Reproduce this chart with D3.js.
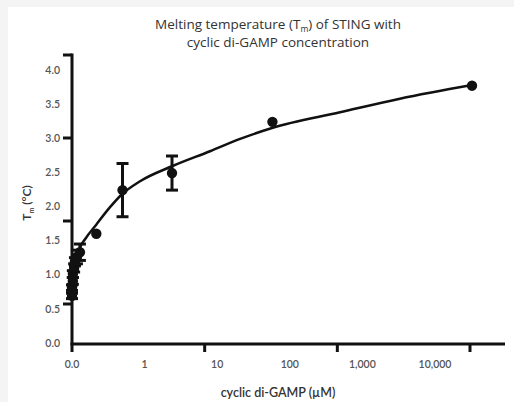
<!DOCTYPE html>
<html><head><meta charset="utf-8">
<script src="https://cdn.jsdelivr.net/npm/d3@7"></script>
<style>body{margin:0;background:#f4f4f4;}svg{display:block;}</style>
</head><body>
<script>
// Data (concentration in µM, Tm shift in °C)
const conc   = [0, 0, 0.02, 0.02, 0.05, 0.07, 0.12, 0.2, 0.75, 2.2, 9, 100, 10000];
const tm     = [0.69, 0.81, 0.91, 1.01, 1.10, 1.19, 1.26, 1.33, 1.60, 2.24, 2.49, 3.24, 3.77];
const tmErr  = [0.04, 0.04, 0.05, 0.05, 0.06, 0.06, 0.10, 0.12, 0, 0.39, 0.25, 0, 0];
// fitted curve
const fitConc = [0, 0.047, 0.122, 0.2, 0.35, 0.74, 1.4, 2.16, 3.79, 9, 23, 47, 99, 478, 1900, 10000];
const fitTm   = [0.63, 0.92, 1.19, 1.39, 1.52, 1.73, 1.99, 2.18, 2.37, 2.59, 2.81, 2.99, 3.15, 3.38, 3.58, 3.78];
const xTickLabels = ["0.0", "1", "10", "100", "1,000", "10,000"];
const yTickValues = [0, 0.5, 1, 1.5, 2, 2.5, 3, 3.5, 4];
const xMajorTicks = [1, 2, 3];
const yMajorTicks = [0, 1, 2, 3];

const W = 514, H = 402;
const svg = d3.select("body").append("svg").attr("width", W).attr("height", H);
svg.append("rect").attr("x", 8).attr("y", 7).attr("width", W - 8).attr("height", H - 7).attr("fill", "#fff");

const x = d3.scaleSymlog().constant(1).domain([0, 10000]).range([72, 472]);
const y = d3.scaleLinear().domain([0, 4]).range([343, 70]);
const xLab = d3.scalePoint().domain(xTickLabels).range([72, 435]);
const xTk = d3.scaleLinear().domain([0, 3]).range([72, 470]);
const yTk = d3.scaleLinear().domain([0, 3]).range([55, 304]);

const font = "Lato, 'Open Sans', sans-serif";

// Title
const title = svg.append("text").attr("x", 278).attr("text-anchor", "middle")
  .attr("font-family", "'Open Sans', sans-serif").attr("font-size", 13.5).attr("fill", "#333");
const l1 = title.append("tspan").attr("x", 278).attr("y", 29);
l1.append("tspan").text("Melting temperature (T");
l1.append("tspan").attr("font-size", 8.5).attr("dy", 3).text("m");
l1.append("tspan").attr("dy", -3).text(") of STING with");
title.append("tspan").attr("x", 278).attr("y", 47).text("cyclic di-GAMP concentration");

// Axes lines
const ax = svg.append("g").attr("stroke", "#111").attr("stroke-width", 3).attr("fill", "none");
ax.append("line").attr("x1", 72).attr("x2", 72).attr("y1", 53.5).attr("y2", 352);
ax.append("line").attr("x1", 70.5).attr("x2", 505).attr("y1", 344).attr("y2", 344);
ax.selectAll(".yt").data(yMajorTicks).join("line")
  .attr("x1", 63).attr("x2", 72).attr("y1", d => yTk(d)).attr("y2", d => yTk(d));
ax.selectAll(".xt").data(xMajorTicks).join("line")
  .attr("x1", d => xTk(d)).attr("x2", d => xTk(d)).attr("y1", 344).attr("y2", 352);

// Tick labels
svg.selectAll(".yl").data(yTickValues).join("text")
  .attr("x", 60).attr("y", d => y(d)).attr("dy", "0.35em").attr("text-anchor", "end")
  .attr("font-family", font).attr("font-size", 10.5).attr("font-weight", 600).attr("fill", "#555")
  .text(d => d.toFixed(1));
svg.selectAll(".xl").data(xTickLabels).join("text")
  .attr("x", d => xLab(d)).attr("y", 368).attr("text-anchor", "middle")
  .attr("font-family", font).attr("font-size", 10.5).attr("font-weight", 600).attr("fill", "#555")
  .text(d => d);

// Axis titles
svg.append("text").attr("x", 278).attr("y", 397).attr("text-anchor", "middle")
  .attr("font-family", font).attr("font-size", 12.5).attr("font-weight", 600).attr("fill", "#333")
  .text("cyclic di-GAMP (µM)");
const yt = svg.append("text").attr("transform", "translate(31,203) rotate(-90)").attr("text-anchor", "middle")
  .attr("font-family", font).attr("font-size", 12).attr("font-weight", 600).attr("fill", "#333");
yt.append("tspan").text("T");
yt.append("tspan").attr("font-size", 7).attr("dy", 3).text("m");
yt.append("tspan").attr("dy", -3).text(" (°C)");

// Fit curve
const line = d3.line().x((d, i) => x(fitConc[i])).y(d => y(d)).curve(d3.curveMonotoneX);
svg.append("path").attr("d", line(fitTm)).attr("fill", "none").attr("stroke", "#111").attr("stroke-width", 2.5);

// Error bars
const pts = conc.map((c, i) => ({c, v: tm[i], e: tmErr[i]})).filter(d => d.e > 0);
const eb = svg.append("g").attr("stroke", "#111").attr("stroke-width", 3);
eb.selectAll(".v").data(pts).join("line")
  .attr("x1", d => x(d.c)).attr("x2", d => x(d.c)).attr("y1", d => y(d.v - d.e)).attr("y2", d => y(d.v + d.e));
eb.selectAll(".t").data(pts).join("line")
  .attr("x1", d => x(d.c) - 6).attr("x2", d => x(d.c) + 6).attr("y1", d => y(d.v + d.e)).attr("y2", d => y(d.v + d.e));
eb.selectAll(".b").data(pts).join("line")
  .attr("x1", d => x(d.c) - 6).attr("x2", d => x(d.c) + 6).attr("y1", d => y(d.v - d.e)).attr("y2", d => y(d.v - d.e));

// Points
svg.selectAll(".pt").data(conc).join("circle")
  .attr("cx", d => x(d)).attr("cy", (d, i) => y(tm[i])).attr("r", 5.2).attr("fill", "#111");
</script>
</body></html>
